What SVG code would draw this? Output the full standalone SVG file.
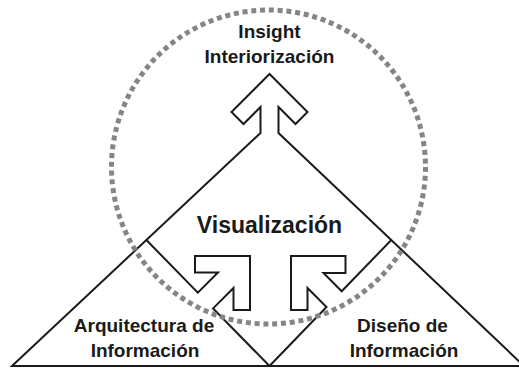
<svg xmlns="http://www.w3.org/2000/svg" width="519" height="369" viewBox="0 0 519 369">
<style>
.ln{fill:none;stroke:#1a1a1a;stroke-width:2;stroke-linejoin:miter;stroke-miterlimit:10}
.t{font-family:"Liberation Sans",Arial,sans-serif;font-weight:bold;fill:#1a1a1a;text-anchor:middle}
.dots{fill:none;stroke:#858585;stroke-width:5;stroke-dasharray:5 3.808}
</style>
<rect width="519" height="369" fill="#ffffff"/>
<g id="visualizacion">
<path class="ln" d="M12,366 L260.5,133 L260.5,107 L243.5,124 L231.5,112 L269.5,74 L307.5,112 L295.5,124 L278.5,107 L278.5,133 L524,366 Z"/>
<text class="t" x="269.5" y="233" font-size="23">Visualización</text>
</g>
<g id="arquitectura">
<text class="t" x="144" y="332" font-size="19">Arquitectura de</text>
<text class="t" x="145" y="357" font-size="19">Información</text>
</g>
<g id="diseno">
<text class="t" x="402.5" y="332" font-size="19">Diseño de</text>
<text class="t" x="404" y="357" font-size="19">Información</text>
</g>
<g id="connectors">
<path class="ln" d="M146.4,240 L197.8,292.7 L218,272.5 L195,272.5 L195,256 L250,256 L250,310 L233.5,310 L233.5,288 L213.1,308.4 L269.5,366"/>
<path class="ln" d="M391.3,240 L341.7,291.2 L323.5,273 L345.5,273 L345.5,256 L291,256 L291,310 L307.5,310 L307.5,288 L326.5,307 L269.5,366"/>
</g>
<g id="insight">
<circle class="dots" cx="268.5" cy="167" r="157"/>
<text class="t" x="269.5" y="38" font-size="19">Insight</text>
<text class="t" x="269.5" y="63" font-size="19">Interiorización</text>
</g>
</svg>
